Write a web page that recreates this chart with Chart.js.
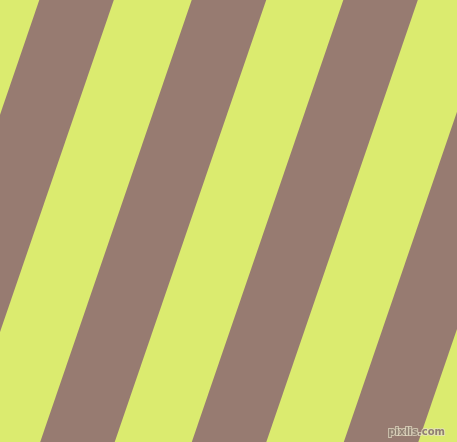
<!DOCTYPE html>
<html lang="en">
<head>
    <meta charset="UTF-8">
    <title>Stripes</title>
    <script src="https://cdn.jsdelivr.net/npm/chart.js"></script>
    <style>
        html, body {
            margin: 0;
            padding: 0;
            overflow: hidden;
            background-color: #dbeb6f;
        }
        #chartContainer {
            position: relative;
            width: 457px;
            height: 442px;
            background-color: #dbeb6f;
        }
    </style>
</head>
<body>

    <div id="chartContainer">
        <canvas id="stripeChart"></canvas>
    </div>

    <script>
        // stripe data (x offset of each brown band along the top edge)
        const stripeNames = ['band 1', 'band 2', 'band 3', 'band 4', 'band 5'];
        const stripeTopLeft = [-112.7, 39.3, 191.7, 343.3, 495.3];
        const stripeWidth = [74.5, 74.5, 74.5, 74.5, 74.5];
        const stripeDrift = [151.5, 151.5, 151.5, 151.5, 151.5]; // shift from top to bottom
        const xRange = [0, 457];
        const yRange = [0, 442];

        const lightColor = '#dbeb6f';
        const darkColor = '#977b71';

        // each band is a closed four-point shape
        const datasets = stripeNames.map(function (name, i) {
            const l = stripeTopLeft[i];
            const w = stripeWidth[i];
            const d = stripeDrift[i];
            return {
                label: name,
                data: [
                    { x: l, y: yRange[0] },
                    { x: l + w, y: yRange[0] },
                    { x: l + w - d, y: yRange[1] },
                    { x: l - d, y: yRange[1] },
                    { x: l, y: yRange[0] }
                ],
                fill: 'shape',
                backgroundColor: darkColor,
                borderColor: darkColor,
                borderWidth: 0,
                pointRadius: 0,
                tension: 0
            };
        });

        // small watermark in the lower right corner
        const watermark = {
            id: 'watermark',
            afterDraw(chart) {
                const c = chart.ctx;
                c.save();
                c.font = 'bold 10px "DejaVu Sans", sans-serif';
                c.textAlign = 'right';
                c.textBaseline = 'alphabetic';
                c.lineWidth = 2;
                c.strokeStyle = 'rgba(230,225,200,0.7)';
                c.strokeText('pixlis.com', 445, 435);
                c.fillStyle = '#8f7f72';
                c.fillText('pixlis.com', 445, 435);
                c.restore();
            }
        };

        const ctx = document.getElementById('stripeChart').getContext('2d');
        const stripeChart = new Chart(ctx, {
            type: 'line',
            data: { datasets: datasets },
            options: {
                responsive: true,
                maintainAspectRatio: false,
                animation: false,
                layout: { padding: 0 },
                plugins: {
                    legend: { display: false },
                    tooltip: { enabled: false }
                },
                scales: {
                    x: { type: 'linear', min: xRange[0], max: xRange[1], display: false },
                    y: { type: 'linear', min: yRange[0], max: yRange[1], reverse: true, display: false }
                }
            },
            plugins: [watermark]
        });
    </script>

</body>
</html>
